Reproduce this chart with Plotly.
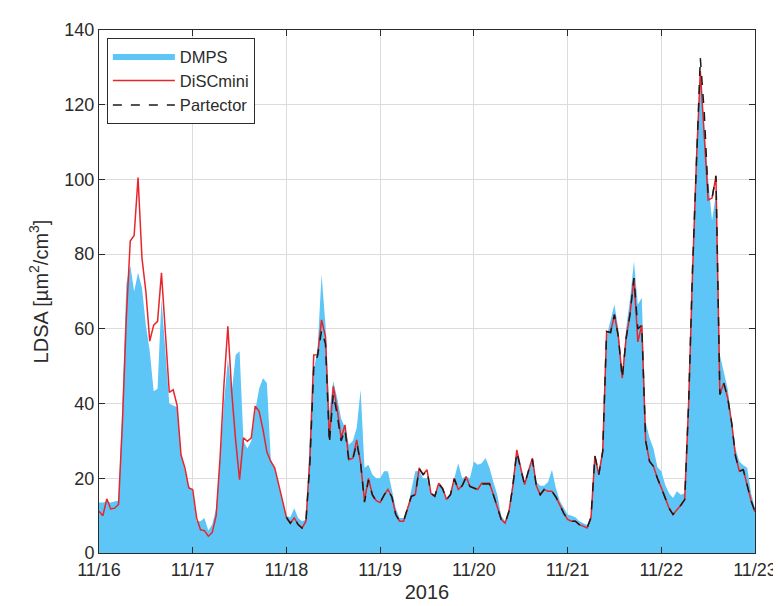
import pandas as pd
import plotly.graph_objects as go

# hourly time base, 2016-11-16 00:00 to 2016-11-23 00:00
t_all = pd.date_range("2016-11-16", periods=169, freq="h")

dmps = [
    13.5, 13.5, 13.8, 13.5, 13.8, 14, 40, 72, 77, 70, 75, 71, 61, 54, 43.3, 44, 68, 55, 40, 39.5, 39, 27, 22, 18,
    16.5, 8.5, 8.5, 9.4, 6, 7.6, 12, 25, 40, 52, 43, 53, 54, 30, 28, 30, 38, 44, 46.8, 45.5, 25, 22.8, 18, 14,
    10, 9.5, 12, 9.4, 8.5, 9, 30.8, 48.6, 55, 74.5, 61, 38, 46, 41.5, 36, 33.5, 29, 30, 33.5, 43.7, 22.8, 23.6, 21, 20,
    20, 21.9, 21.9, 16.5, 12, 9.4, 9.4, 12, 16.5, 21.9, 22, 20, 20, 16, 15.5, 18.7, 17.4, 14.5, 16, 20, 24, 20, 20.5, 20,
    24.5, 23.6, 24, 25.4, 22.8, 19, 15.6, 10, 8.5, 11.2, 20, 27, 23, 19, 22, 25.4, 19, 18, 18, 19, 22.3, 17.4, 14, 12,
    10.3, 10, 9.6, 8.5, 7.9, 7.5, 10, 26, 22, 28, 58, 62, 66.5, 60, 48, 60, 68, 78, 66.5, 68.3, 35, 30.8, 28, 23,
    21.9, 18.3, 16, 14.7, 16.5, 15.6, 16, 40, 75, 105, 128.9, 114, 100, 89, 96, 53, 48.6, 44, 36, 28, 24.5, 23.5, 22.8, 16,
    12,
]

discmini = [
    11.2, 10, 14.5, 11.8, 12, 13, 35, 63, 83.5, 85, 100.5, 79, 70, 56.7, 61, 62, 75, 60, 43, 43.7, 39.5, 26.3, 22.8, 17.4,
    17, 9.4, 6.2, 6, 4.5, 5.5, 10, 25.4, 45, 60.7, 43, 30, 19.6, 30.8, 29.9, 30.8, 39.3, 37.9, 33, 27, 24.5, 22.8, 18, 14,
    9.5, 8, 9.4, 7.6, 6.7, 8.5, 25, 53, 53.1, 62.4, 58, 30.5, 44.6, 38.5, 30.8, 34.3, 25, 25.4, 30.3, 24, 14, 20, 15.6, 14,
    13.5, 15.5, 17, 15, 10.3, 8.5, 8.5, 12, 15.2, 15.6, 22.8, 21, 22.3, 16, 15.2, 18.7, 17.4, 14.3, 15.6, 20, 17, 18, 20.5, 17.8,
    17.5, 17, 18.7, 18.7, 18.7, 15.6, 12.5, 9, 8, 11.2, 18, 27.6, 22.8, 18.3, 22, 25.4, 18, 15.6, 17, 16.5, 16.5, 15, 12.9, 10.7,
    9, 8.5, 8.5, 7.6, 7.2, 6.7, 9.5, 26, 21, 27.2, 59.3, 59, 63.8, 58, 46.8, 57.5, 64, 73.6, 56.5, 61, 30, 24.5, 23.2, 20,
    17.5, 14.5, 12, 10.3, 11.5, 12.8, 14.3, 40, 75, 105, 129, 110, 94.5, 95, 100.8, 42.4, 45.5, 41.5, 35, 26, 21.9, 22.3, 18.3, 14,
    11,
]

# Partector starts at 11/18 00:00
t_part = t_all[48:]
partector = [
    9.5, 8, 9.4, 7.6, 6.7, 8.5, 24, 49.5, 53, 59.5, 56, 29.4, 42.5, 37, 30, 33, 24.5, 25, 29.5, 24, 13.6, 19.5, 15.6, 13.8,
    13.5, 15.5, 17, 15, 10.3, 8.5, 8.5, 12, 15.2, 15.6, 22.5, 21, 22, 16, 15.2, 18.5, 17.2, 14.3, 15.6, 19.8, 17, 18, 20.2, 17.8,
    17.5, 17, 18.5, 18.5, 18.5, 15.6, 12.5, 9, 8, 11.2, 18, 27, 22.5, 18.3, 22, 25, 18, 15.6, 17, 16.5, 16.5, 15, 12.9, 10.7,
    9, 8.5, 8.5, 7.6, 7.2, 6.7, 9.5, 26, 21, 27.2, 59.3, 59, 63.8, 58, 46.8, 57.5, 64, 73.6, 60, 61, 30, 24.5, 23.2, 20,
    17.5, 14.5, 12, 10.3, 11.5, 12.8, 14.3, 40, 76, 107, 132.5, 118, 96, 95, 101, 42.4, 45.5, 41.5, 35, 26, 21.9, 22.3, 18.3, 14,
    11,
]

day_ticks = pd.date_range("2016-11-16", periods=8, freq="D")
day_labels = ["11/16", "11/17", "11/18", "11/19", "11/20", "11/21", "11/22", "11/23"]
y_ticks = [0, 20, 40, 60, 80, 100, 120, 140]

FONT = "Liberation Sans, Arial, sans-serif"
TXT = "#2b2b2b"
BLUE = "#5EC5F7"

fig = go.Figure()
fig.add_trace(go.Scatter(
    x=t_all, y=dmps, name="DMPS", mode="lines",
    line=dict(width=0, color=BLUE), fill="tozeroy", fillcolor=BLUE,
))
fig.add_trace(go.Scatter(
    x=t_all, y=discmini, name="DiSCmini", mode="lines",
    line=dict(width=1.5, color="#E8252B"),
))
fig.add_trace(go.Scatter(
    x=t_part, y=partector, name="Partector", mode="lines",
    line=dict(width=1.5, color="#1A1A1A", dash="dash"),
))

axis_common = dict(
    showline=True, linecolor=TXT, linewidth=1, mirror="ticks",
    ticks="inside", ticklen=6, tickcolor=TXT,
    showgrid=True, gridcolor="#DCDCDC", gridwidth=1,
    zeroline=False, tickfont=dict(size=18, color=TXT, family=FONT),
)

fig.update_layout(
    width=781, height=606,
    margin=dict(l=91, r=28, t=22, b=61),
    paper_bgcolor="white", plot_bgcolor="white",
    font=dict(family=FONT, color=TXT),
    showlegend=True,
    legend=dict(
        x=0.012, y=0.985, xanchor="left", yanchor="top",
        bgcolor="white", bordercolor=TXT, borderwidth=1,
        font=dict(size=16.5, color=TXT, family=FONT),
        itemwidth=62, tracegroupgap=0,
    ),
    xaxis=dict(
        axis_common,
        range=[day_ticks[0], day_ticks[-1]],
        tickvals=list(day_ticks), ticktext=day_labels,
        title=dict(text="2016", font=dict(size=20, color=TXT, family=FONT), standoff=6),
    ),
    yaxis=dict(
        axis_common,
        range=[0, 140],
        tickvals=y_ticks,
        title=dict(text="LDSA [µm<sup>2</sup>/cm<sup>3</sup>]", font=dict(size=20, color=TXT, family=FONT), standoff=10),
    ),
)

fig.write_html("out.html")
